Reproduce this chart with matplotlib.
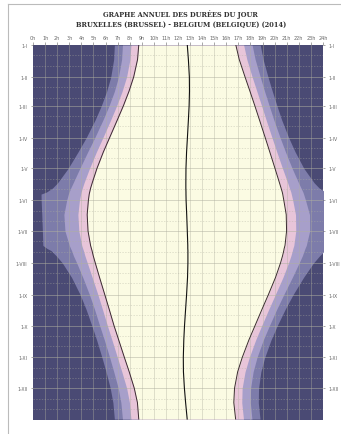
import matplotlib.pyplot as plt
import numpy as np
from matplotlib.lines import Line2D

# day of year (1 Jan = 0) for the sampled dates
doy = [0, 14, 31, 45, 59, 73, 90, 104, 120, 134, 139, 143, 145, 151, 165, 181,
       195, 198, 200, 205, 212, 226, 243, 257, 273, 287, 304, 318, 334, 348, 364]
# solar noon (hours, CET)
noon = [12.77, 12.86, 12.94, 12.95, 12.92, 12.86, 12.78, 12.71, 12.66, 12.65, 12.65,
        12.66, 12.66, 12.67, 12.72, 12.77, 12.81, 12.81, 12.82, 12.82, 12.82, 12.79,
        12.71, 12.63, 12.54, 12.48, 12.44, 12.45, 12.53, 12.63, 12.76]
# half durations (hours) : day, civil, nautical, astronomical
day_half = [4.02, 4.21, 4.61, 5.01, 5.44, 5.89, 6.44, 6.89, 7.37, 7.75, 7.88, 7.97, 8.01,
            8.09, 8.24, 8.22, 8.05, 7.98, 7.94, 7.84, 7.67, 7.29, 6.77, 6.33, 5.84, 5.39,
            4.88, 4.49, 4.15, 3.99, 4.01]
civil_half = [4.67, 4.84, 5.20, 5.58, 6.00, 6.44, 7.00, 7.47, 7.99, 8.43, 8.57, 8.68, 8.72,
              8.83, 9.01, 8.98, 8.78, 8.70, 8.65, 8.53, 8.33, 7.90, 7.34, 6.89, 6.39, 5.95,
              5.46, 5.10, 4.78, 4.65, 4.66]
naut_half = [5.37, 5.53, 5.87, 6.22, 6.63, 7.08, 7.67, 8.19, 8.79, 9.33, 9.53, 9.68, 9.74,
             9.89, 10.17, 10.13, 9.81, 9.70, 9.63, 9.48, 9.21, 8.68, 8.04, 7.55, 7.03, 6.58,
             6.10, 5.77, 5.48, 5.36, 5.36]
astro_half = [6.04, 6.19, 6.51, 6.86, 7.27, 7.73, 8.38, 8.99, 9.76, 10.62, 11.03, 11.55, 12,
              12, 12, 12, 12, 11.65, 11.33, 10.91, 10.40, 9.61, 8.81, 8.25, 7.68, 7.22,
              6.74, 6.41, 6.14, 6.02, 6.03]

month_doy = [0, 31, 59, 90, 120, 151, 181, 212, 243, 273, 304, 334]
month_lbl = ['1-I', '1-II', '1-III', '1-IV', '1-V', '1-VI', '1-VII', '1-VIII',
             '1-IX', '1-X', '1-XI', '1-XII']
hour_lbl = ['%dh' % h for h in range(25)]

y = np.array(doy)
n = np.array(noon)

fig = plt.figure(figsize=(3.41, 4.35), dpi=100)
ax = fig.add_axes([0.097, 0.032, 0.850, 0.862])
ax.set_facecolor('#4a4a74')

bands = [(astro_half, '#7d7caa'), (naut_half, '#a79fca'),
         (civil_half, '#e8c5d9'), (day_half, '#fbfbe3')]
for half, col in bands:
    h = np.array(half)
    ax.fill_betweenx(y, n - h, n + h, color=col, lw=0, zorder=1)

# grid
for hh in range(1, 24):
    ax.axvline(hh, color='#b0b0a0', lw=0.5, alpha=0.55, zorder=2)
for m in month_doy[1:]:
    ax.axhline(m, color='#b0b0a0', lw=0.6, alpha=0.6, zorder=2)
    for d in (10, 20):
        ax.axhline(m + d, color='#b0b0a0', lw=0.5, alpha=0.5, ls=(0, (2, 2)), zorder=2)
for d in (10, 20):
    ax.axhline(d, color='#b0b0a0', lw=0.5, alpha=0.5, ls=(0, (2, 2)), zorder=2)

h = np.array(day_half)
ax.plot(n - h, y, color='#3a2a30', lw=0.7, zorder=3)
ax.plot(n + h, y, color='#3a2a30', lw=0.7, zorder=3)
ax.plot(n, y, color='#111111', lw=0.8, zorder=3)

ax.set_xlim(0, 24)
ax.set_ylim(365, 0)
ax.set_xticks(range(25))
ax.set_xticklabels(hour_lbl)
ax.set_yticks(month_doy)
ax.set_yticklabels(month_lbl)
ax.tick_params(axis='x', top=True, bottom=False, labeltop=True, labelbottom=False,
               labelsize=3.5, colors='#666666', length=2, width=0.4, pad=2)
ax.tick_params(axis='y', left=True, right=True, labelleft=True, labelright=True,
               labelsize=3.3, colors='#666666', length=1.5, width=0.4, pad=2.5)
for s in ax.spines.values():
    s.set_visible(False)

fig.text(0.53, 0.966, 'GRAPHE ANNUEL DES DURÉES DU JOUR', ha='center', va='center',
         fontsize=4.8, fontweight='bold', family='DejaVu Serif', color='#333333')
fig.text(0.53, 0.944, 'BRUXELLES (BRUSSEL) - BELGIUM (BELGIQUE) (2014)', ha='center',
         va='center', fontsize=4.8, fontweight='bold', family='DejaVu Serif', color='#333333')

# page frame (top and left edges)
fig.add_artist(Line2D([0.024, 1.0], [0.989, 0.989], color='#bbbbbb', lw=0.8))
fig.add_artist(Line2D([0.024, 0.024], [0.0, 0.989], color='#bbbbbb', lw=0.8))

plt.savefig('out.png')
